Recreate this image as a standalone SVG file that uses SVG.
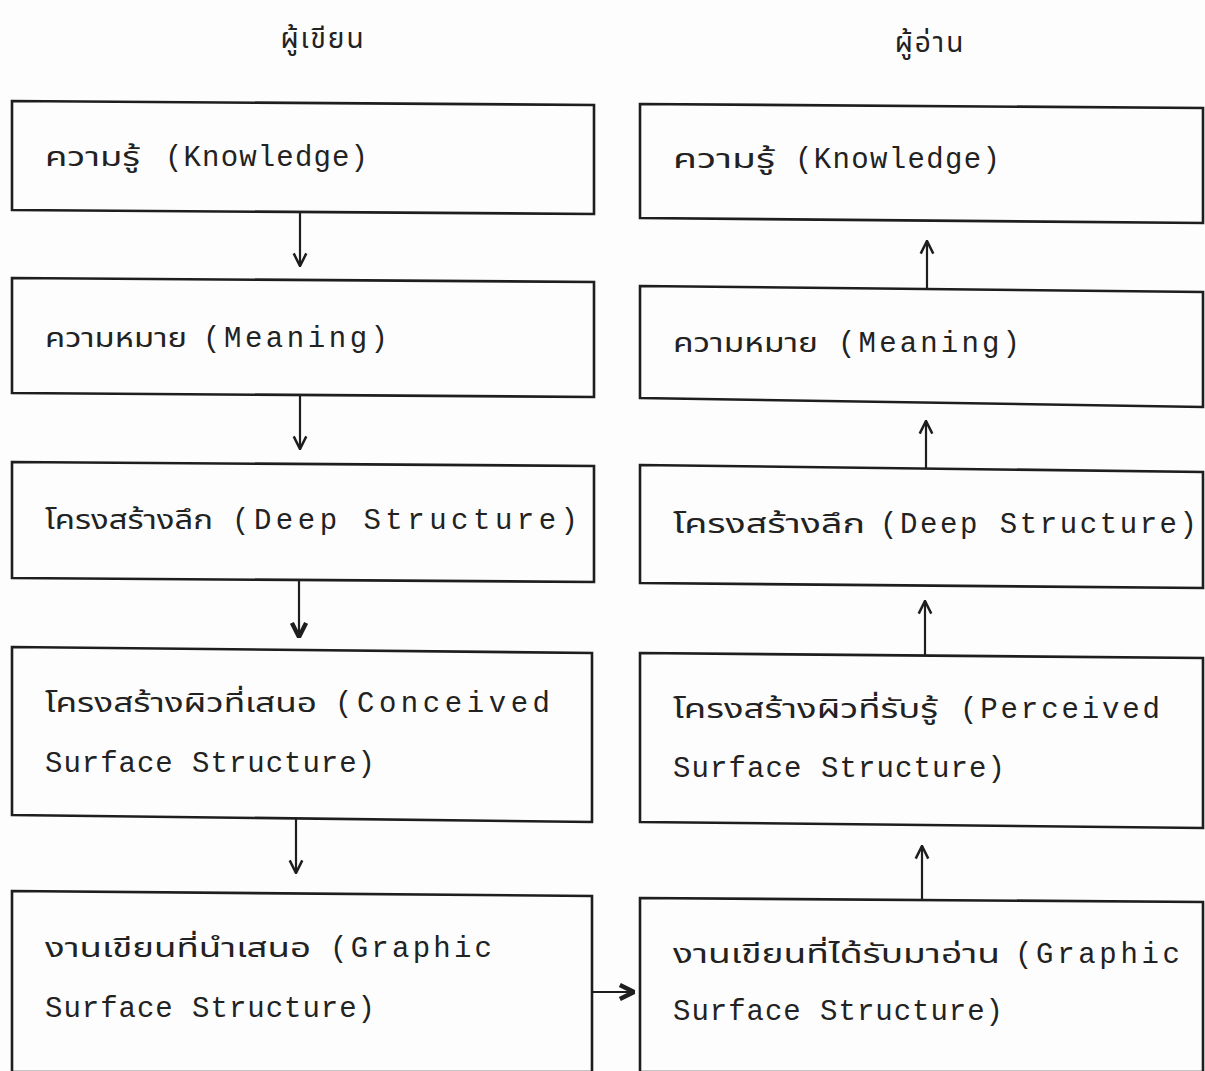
<svg xmlns="http://www.w3.org/2000/svg" width="1205" height="1071" viewBox="0 0 1205 1071">
  <style>
    .box { fill: none; stroke: #1e1e1e; stroke-width: 2.6; stroke-linejoin: miter; }
    .lat { font-family: "Liberation Mono", "DejaVu Sans Mono", monospace; font-size: 29px; fill: #222; }
    .th { font-family: "Noto Sans Thai", "Noto Sans", "DejaVu Sans", "Liberation Sans", sans-serif; font-size: 26px; fill: #222; }
    .head { font-family: "Noto Sans Thai", "Noto Sans", "DejaVu Sans", "Liberation Sans", sans-serif; font-size: 28px; fill: #222; text-anchor: middle; letter-spacing: 2px; }
    .conn { stroke: #1e1e1e; stroke-width: 2.2; fill: none; }
  </style>
  <defs>
    <marker id="vhead" viewBox="0 0 14 14" refX="13" refY="7" markerUnits="userSpaceOnUse" markerWidth="16" markerHeight="16" orient="auto">
      <path d="M2,1.5 L13,7 L2,12.5" fill="none" stroke="#1e1e1e" stroke-width="2.2"/>
    </marker>
    <marker id="vbold" viewBox="0 0 14 14" refX="13" refY="7" markerUnits="userSpaceOnUse" markerWidth="18" markerHeight="18" orient="auto">
      <path d="M2,1.5 L13,7 L2,12.5" fill="none" stroke="#1e1e1e" stroke-width="3.4"/>
    </marker>
  </defs>

  <rect x="0" y="0" width="1205" height="1071" fill="#fdfdfd"/>

  <!-- column headings -->
  <text class="head" x="323" y="48">ผู้เขียน</text>
  <text class="head" x="930" y="52">ผู้อ่าน</text>

  <!-- writer side -->
  <g id="w-knowledge">
    <path class="box" d="M12,101 L594,105 L594,214 L12,210 Z"/>
    <text class="th" x="45" y="166" textLength="95" lengthAdjust="spacingAndGlyphs">ความรู้</text>
    <text class="lat" x="165" y="166" textLength="203" lengthAdjust="spacing">(Knowledge)</text>
  </g>
  <g id="w-meaning">
    <path class="box" d="M12,278 L594,282 L594,397 L12,393 Z"/>
    <text class="th" x="45" y="347" textLength="142" lengthAdjust="spacingAndGlyphs">ความหมาย</text>
    <text class="lat" x="203" y="347" textLength="185" lengthAdjust="spacing">(Meaning)</text>
  </g>
  <g id="w-deep">
    <path class="box" d="M12,462 L594,466 L594,582 L12,578 Z"/>
    <text class="th" x="45" y="529" textLength="168" lengthAdjust="spacingAndGlyphs">โครงสร้างลึก</text>
    <text class="lat" x="232" y="529" textLength="346" lengthAdjust="spacing">(Deep Structure)</text>
  </g>
  <g id="w-conceived">
    <path class="box" d="M12,647 L592,653 L592,822 L12,815 Z"/>
    <text class="th" x="45" y="712" textLength="272" lengthAdjust="spacingAndGlyphs">โครงสร้างผิวที่เสนอ</text>
    <text class="lat" x="335" y="712" textLength="215" lengthAdjust="spacing">(Conceived</text>
    <text class="lat" x="45" y="772" textLength="330" lengthAdjust="spacing">Surface Structure)</text>
  </g>
  <g id="w-graphic">
    <path class="box" d="M12,891 L592,896 L592,1072 L12,1072 Z"/>
    <text class="th" x="45" y="957" textLength="266" lengthAdjust="spacingAndGlyphs">งานเขียนที่นำเสนอ</text>
    <text class="lat" x="330" y="957" textLength="162" lengthAdjust="spacing">(Graphic</text>
    <text class="lat" x="45" y="1017" textLength="330" lengthAdjust="spacing">Surface Structure)</text>
  </g>

  <!-- reader side -->
  <g id="r-knowledge">
    <path class="box" d="M640,104 L1203,108 L1203,223 L640,218 Z"/>
    <text class="th" x="673" y="168" textLength="102" lengthAdjust="spacingAndGlyphs">ความรู้</text>
    <text class="lat" x="795" y="168" textLength="205" lengthAdjust="spacing">(Knowledge)</text>
  </g>
  <g id="r-meaning">
    <path class="box" d="M640,286 L1203,292 L1203,407 L640,398 Z"/>
    <text class="th" x="673" y="352" textLength="145" lengthAdjust="spacingAndGlyphs">ความหมาย</text>
    <text class="lat" x="838" y="352" textLength="182" lengthAdjust="spacing">(Meaning)</text>
  </g>
  <g id="r-deep">
    <path class="box" d="M640,465 L1203,472 L1203,588 L640,583 Z"/>
    <text class="th" x="673" y="533" textLength="192" lengthAdjust="spacingAndGlyphs">โครงสร้างลึก</text>
    <text class="lat" x="880" y="533" textLength="317" lengthAdjust="spacing">(Deep Structure)</text>
  </g>
  <g id="r-perceived">
    <path class="box" d="M640,653 L1203,658 L1203,828 L640,822 Z"/>
    <text class="th" x="673" y="718" textLength="265" lengthAdjust="spacingAndGlyphs">โครงสร้างผิวที่รับรู้</text>
    <text class="lat" x="960" y="718" textLength="200" lengthAdjust="spacing">(Perceived</text>
    <text class="lat" x="673" y="777" textLength="332" lengthAdjust="spacing">Surface Structure)</text>
  </g>
  <g id="r-graphic">
    <path class="box" d="M640,898 L1203,902 L1203,1072 L640,1072 Z"/>
    <text class="th" x="673" y="963" textLength="327" lengthAdjust="spacingAndGlyphs">งานเขียนที่ได้รับมาอ่าน</text>
    <text class="lat" x="1015" y="963" textLength="165" lengthAdjust="spacing">(Graphic</text>
    <text class="lat" x="673" y="1020" textLength="330" lengthAdjust="spacing">Surface Structure)</text>
  </g>

  <!-- connectors -->
  <g id="connectors">
    <line class="conn" x1="300" y1="212" x2="300" y2="266" marker-end="url(#vhead)"/>
    <line class="conn" x1="300" y1="395" x2="300" y2="449" marker-end="url(#vhead)"/>
    <line class="conn" x1="299" y1="580" x2="299" y2="637" marker-end="url(#vbold)"/>
    <line class="conn" x1="296" y1="819" x2="296" y2="873" marker-end="url(#vhead)"/>
    <line class="conn" x1="592" y1="992" x2="634" y2="992" marker-end="url(#vbold)"/>
    <line class="conn" x1="927" y1="288" x2="927" y2="241" marker-end="url(#vhead)"/>
    <line class="conn" x1="926" y1="468" x2="926" y2="421" marker-end="url(#vhead)"/>
    <line class="conn" x1="925" y1="655" x2="925" y2="601" marker-end="url(#vhead)"/>
    <line class="conn" x1="922" y1="900" x2="922" y2="846" marker-end="url(#vhead)"/>
  </g>
</svg>
